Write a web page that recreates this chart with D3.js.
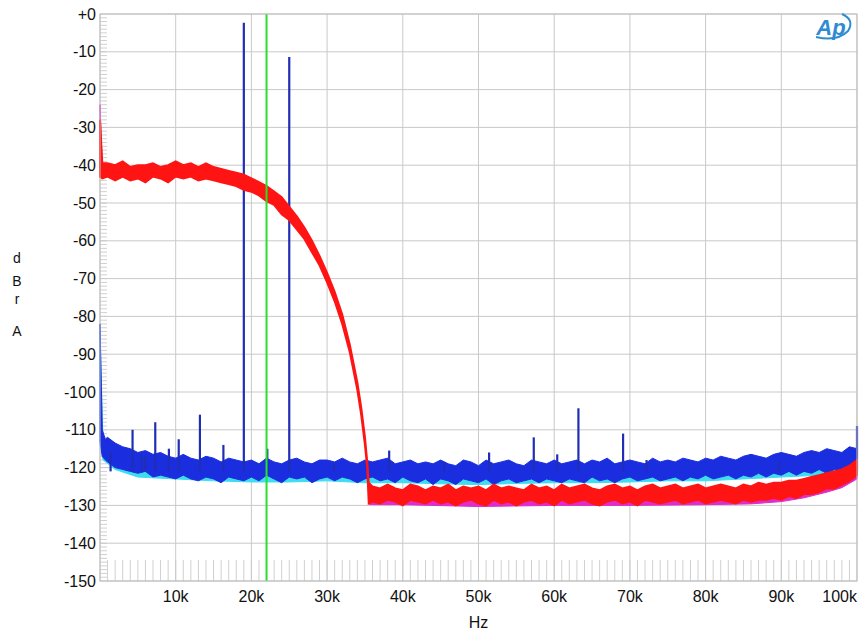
<!DOCTYPE html>
<html>
<head>
<meta charset="utf-8">
<script src="https://cdn.jsdelivr.net/npm/d3@7"></script>
<style>
    body { margin: 0; background: white; }
    text { font-family: "Liberation Sans", Arial, sans-serif; }
</style>
</head>
<body>
<div id="chart"></div>
<script>
// tick labels
const yTicks = [0, -10, -20, -30, -40, -50, -60, -70, -80, -90, -100, -110, -120, -130, -140, -150];
const xTicks = [10, 20, 30, 40, 50, 60, 70, 80, 90, 100];
const yLetters = ["d", "B", "r", "A"];

// noise bands, [kHz, low dB, high dB]
const cyanBand = [
    [0, -114, -84], [0.4, -118, -113], [2, -120.5, -116], [5, -122.5, -118], [10, -123, -119],
    [15, -123.5, -120], [20, -123.8, -121], [25, -123.8, -121], [30, -123.5, -121], [35, -124, -121],
    [40, -124, -121.5], [45, -124.3, -121.5], [50, -124.5, -121.5], [55, -124.2, -121.5], [60, -124, -121.5],
    [65, -124, -121.5], [70, -123.8, -121], [75, -123.5, -121], [80, -123.5, -120.5], [85, -123, -120],
    [90, -122.5, -119.5], [95, -122, -119], [100, -121, -118]
];

const blueBand = [
    [0, -113, -82], [0.3, -117, -110], [0.7, -118, -112.5], [1, -118.5, -112], [2, -120, -113.5],
    [3, -120.5, -114.5], [4, -121, -115], [5, -121.5, -116], [6, -121, -115.5], [7, -122.5, -116.5],
    [8, -122, -116], [9, -122.5, -117], [10, -123, -117.5], [11, -122, -116.5], [12, -123, -117.5],
    [13, -123.5, -118], [14, -122.5, -117], [15, -123, -117.5], [16, -124, -118.5], [17, -122.5, -117.5],
    [18, -123, -118], [19, -123.5, -118.5], [20, -122.5, -118], [21, -123.5, -119], [22, -122, -117.5],
    [23, -123, -118.5], [24, -124, -119], [25, -122.5, -118], [26, -123, -117.5], [27, -122.5, -118.5],
    [28, -124, -119], [29, -123, -118], [30, -122.5, -118], [31, -123.5, -118.5], [32, -122.5, -117.5],
    [33, -123, -118.5], [34, -124, -119], [35, -123, -118], [36, -122.5, -118.5], [37, -123.5, -118],
    [38, -123, -117.5], [39, -124, -119], [40, -122.5, -118.5], [41, -123.5, -118], [42, -124, -119],
    [43, -123, -118.5], [44, -124.5, -119], [45, -123, -118], [46, -123.5, -119], [47, -124.5, -119.5],
    [48, -123, -118], [49, -123.5, -118.5], [50, -124, -119.5], [51, -123, -118], [52, -124.5, -119],
    [53, -123.5, -118.5], [54, -123, -118], [55, -124, -119], [56, -123.5, -119.5], [57, -123, -118],
    [58, -124, -118.5], [59, -123, -119], [60, -123.5, -118], [61, -124, -119], [62, -123, -118.5],
    [63, -123.5, -118], [64, -124, -119], [65, -122.5, -118], [66, -123.5, -118.5], [67, -123, -117.5],
    [68, -124, -119], [69, -123, -118.5], [70, -122.5, -118], [71, -123.5, -118.5], [72, -123, -119],
    [73, -122.5, -117.5], [74, -123.5, -118.5], [75, -123, -118], [76, -122.5, -118.5], [77, -123.5, -117.5],
    [78, -122.5, -118], [79, -123, -118.5], [80, -122, -117.5], [81, -123, -118], [82, -122.5, -117],
    [83, -122, -117.5], [84, -123, -118], [85, -122, -117], [86, -122.5, -116.5], [87, -121.5, -117],
    [88, -122.5, -117.5], [89, -121.5, -116.5], [90, -122, -116], [91, -121, -116.5], [92, -122, -117],
    [93, -121, -116], [94, -121.5, -115.5], [95, -120.5, -116], [96, -121.5, -115], [97, -120.5, -115.5],
    [98, -121, -116], [99, -120, -114.5], [100, -120.5, -115]
];

const magentaSpike = [[0, -42, -24], [0.3, -42, -41]];
const magentaFloor = [
    [35.6, -129.8, -126], [40, -129.8, -126], [50, -130.3, -126], [60, -130, -126], [70, -130, -126],
    [80, -129.8, -126], [86, -129.6, -126], [90, -129, -126], [93, -128, -125], [96, -126.5, -123.5],
    [98, -125.3, -122.5], [100, -123, -120]
];

const redBand = [
    [0, -43, -28], [0.3, -43.5, -39.5], [1, -43, -39.5], [2, -44, -40], [3, -43, -39],
    [4, -44, -40.5], [5, -43.5, -40], [6, -44.5, -40], [7, -43, -39.5], [8, -43.5, -40.5],
    [9, -44.5, -40], [10, -43, -39], [11, -43.5, -40], [12, -43, -39.5], [13, -44, -40.5],
    [14, -43.5, -39.5], [15, -44, -40.5], [16, -44.5, -41], [17, -45, -41.5], [18, -45.5, -42],
    [19, -46.5, -42.5], [20, -47, -43.5], [21, -48, -44.5], [22, -49.5, -45.5], [23, -50.5, -47],
    [24, -53, -48.5], [25, -54.5, -51], [26, -57, -53.5], [27, -59.5, -56.5], [28, -63, -60],
    [29, -66.5, -64], [30, -71, -68.5], [31, -76, -73.5], [32, -82, -79.5], [33, -89.5, -87.5],
    [34, -99.5, -97.5], [34.5, -106, -104], [35, -114, -112], [35.3, -120, -118.5], [35.5, -129.5, -124],
    [36, -129, -125], [37, -129.5, -125.5], [38, -128.5, -124.5], [39, -129, -125.5], [40, -130, -126],
    [41, -128.5, -124.5], [42, -129, -125], [43, -129.5, -126], [44, -128.5, -125], [45, -129.5, -125.5],
    [46, -129, -124.5], [47, -130, -126], [48, -129, -125], [49, -128.5, -125.5], [50, -129.5, -125],
    [51, -130, -126], [52, -128.5, -124.5], [53, -129.5, -125.5], [54, -129, -125], [55, -130, -125.5],
    [56, -129, -126], [57, -128.5, -124.5], [58, -129.5, -125.5], [59, -129, -125], [60, -130, -126],
    [61, -128.5, -124.5], [62, -129.5, -125.5], [63, -129, -125], [64, -128.5, -124.5], [65, -129.5, -125.5],
    [66, -130, -126], [67, -129, -125], [68, -128.5, -124.5], [69, -129.5, -125.5], [70, -129, -125],
    [71, -130, -126], [72, -128.5, -125], [73, -129, -124.5], [74, -129.5, -125.5], [75, -129, -125],
    [76, -128.5, -124.5], [77, -129.5, -125.5], [78, -129, -125], [79, -128.5, -124.5], [80, -129.5, -125.5],
    [81, -129, -125], [82, -128.5, -124.5], [83, -129, -125], [84, -129.5, -125.5], [85, -128.5, -124.5],
    [86, -129, -125], [87, -128.5, -124], [88, -128.5, -124.5], [89, -128, -124], [90, -128.5, -124],
    [91, -127.5, -123.5], [92, -128, -123.5], [93, -127, -123], [94, -127, -122.5], [95, -126.5, -122],
    [96, -125.5, -121.5], [97, -125.5, -121], [98, -124.5, -120.5], [99, -123.5, -119.5], [100, -122, -118]
];

// discrete tones on the blue trace, [kHz, peak dB]
const blueSpurs = [
    [1.4, -116], [4.3, -110], [5.5, -116.5], [6.0, -117], [7.3, -108], [9.1, -115], [10.4, -112.5],
    [13.2, -106], [16.3, -114], [19.0, -2.3], [22.1, -115], [25.0, -11.4], [30.9, -119], [38.2, -115.5],
    [45.5, -118.5], [51.4, -116], [57.3, -112], [60.4, -116.5], [63.2, -104.3], [69.1, -111],
    [72.2, -118], [89.7, -118.5], [100, -109]
];
const spurBase = -121;

// marker line
const markerKHz = 22.0;

//SVG
const width = 859;
const height = 635;
const margin = {t: 14, b: 54, l: 100, r: 2};
const svg = d3.select("#chart")
    .append("svg")
    .attr("width", width)
    .attr("height", height)
    .attr("viewBox", [0, 0, width, height]);

const xScale = d3.scaleLinear()
    .domain([0, 100])
    .range([margin.l, width - margin.r]);

const yScale = d3.scaleLinear()
    .domain([-150, 0])
    .range([height - margin.b, margin.t]);

const gridColor = "#c9c9c9";

//minor ticks
svg.append("g")
    .selectAll("line")
    .data(d3.range(1, 100))
    .join("line")
    .attr("x1", d => xScale(d))
    .attr("x2", d => xScale(d))
    .attr("y1", yScale(-150))
    .attr("y2", yScale(-150) - 21)
    .attr("stroke", "#d0d0d0")
    .attr("stroke-width", 1);

svg.append("g")
    .selectAll("line")
    .data(d3.range(-149, 0))
    .join("line")
    .attr("x1", xScale(0))
    .attr("x2", xScale(0) + 7)
    .attr("y1", d => yScale(d))
    .attr("y2", d => yScale(d))
    .attr("stroke", "#d0d0d0")
    .attr("stroke-width", 1);

//grid
svg.append("g")
    .selectAll("line")
    .data(yTicks)
    .join("line")
    .attr("x1", xScale(0))
    .attr("x2", xScale(100))
    .attr("y1", d => yScale(d))
    .attr("y2", d => yScale(d))
    .attr("stroke", gridColor);

svg.append("g")
    .selectAll("line")
    .data([0].concat(xTicks))
    .join("line")
    .attr("x1", d => xScale(d))
    .attr("x2", d => xScale(d))
    .attr("y1", yScale(0))
    .attr("y2", yScale(-150))
    .attr("stroke", gridColor);

//labels
svg.append("g")
    .selectAll("text")
    .data(yTicks)
    .join("text")
    .attr("x", xScale(0) - 4)
    .attr("y", d => yScale(d))
    .attr("dy", "0.35em")
    .attr("text-anchor", "end")
    .attr("font-size", "16px")
    .attr("fill", "#111")
    .text(d => d === 0 ? "+0" : d);

svg.append("g")
    .selectAll("text")
    .data(xTicks)
    .join("text")
    .attr("x", d => xScale(d))
    .attr("y", yScale(-150) + 21)
    .attr("text-anchor", d => d === 100 ? "end" : "middle")
    .attr("font-size", "16px")
    .attr("fill", "#111")
    .text(d => d + "k");

svg.append("text")
    .attr("x", xScale(50))
    .attr("y", height - 7)
    .attr("text-anchor", "middle")
    .attr("font-size", "16px")
    .attr("fill", "#111")
    .text("Hz");

svg.append("g")
    .selectAll("text")
    .data(yLetters)
    .join("text")
    .attr("x", 17)
    .attr("y", (d, i) => [263, 286, 304, 336][i])
    .attr("text-anchor", "middle")
    .attr("font-size", "14px")
    .attr("fill", "#111")
    .text(d => d);

//traces
const band = d3.area()
    .x(d => xScale(d[0]))
    .y0(d => yScale(d[1]))
    .y1(d => yScale(d[2]));

function drawBand(data, color, sw) {
    svg.append("path")
        .attr("d", band(data))
        .attr("fill", color)
        .attr("stroke", color)
        .attr("stroke-width", sw)
        .attr("stroke-linejoin", "miter");
}

drawBand(cyanBand, "#3fdcf0", 1);
drawBand(blueBand, "#1a2ee0", 1);

svg.append("g")
    .selectAll("line")
    .data(blueSpurs)
    .join("line")
    .attr("x1", d => xScale(d[0]))
    .attr("x2", d => xScale(d[0]))
    .attr("y1", yScale(spurBase))
    .attr("y2", d => yScale(d[1]))
    .attr("stroke", "#1f2eb4")
    .attr("stroke-width", 2.2);

drawBand(magentaSpike, "#e02cc8", 1);
drawBand(magentaFloor, "#e02cc8", 1);
drawBand(redBand, "#ff1414", 2);

//marker
svg.append("line")
    .attr("x1", xScale(markerKHz))
    .attr("x2", xScale(markerKHz))
    .attr("y1", yScale(0))
    .attr("y2", yScale(-150))
    .attr("stroke", "#2adf2a")
    .attr("stroke-width", 2);

//frame
svg.append("rect")
    .attr("x", xScale(0))
    .attr("y", yScale(0))
    .attr("width", xScale(100) - xScale(0))
    .attr("height", yScale(-150) - yScale(0))
    .attr("fill", "none")
    .attr("stroke", "#bdbdbd");

//logo
const logo = svg.append("g").attr("transform", "translate(833,27)");
logo.append("path")
    .attr("d", "M -17 10 Q 4 15 15 4 Q 22 -7 9 -13")
    .attr("fill", "none")
    .attr("stroke", "#2f8bd2")
    .attr("stroke-width", 2);
logo.append("text")
    .attr("x", -2)
    .attr("y", 8)
    .attr("text-anchor", "middle")
    .attr("font-size", "22px")
    .attr("font-style", "italic")
    .attr("font-weight", "bold")
    .attr("fill", "#2f8bd2")
    .text("Ap");
</script>
</body>
</html>
